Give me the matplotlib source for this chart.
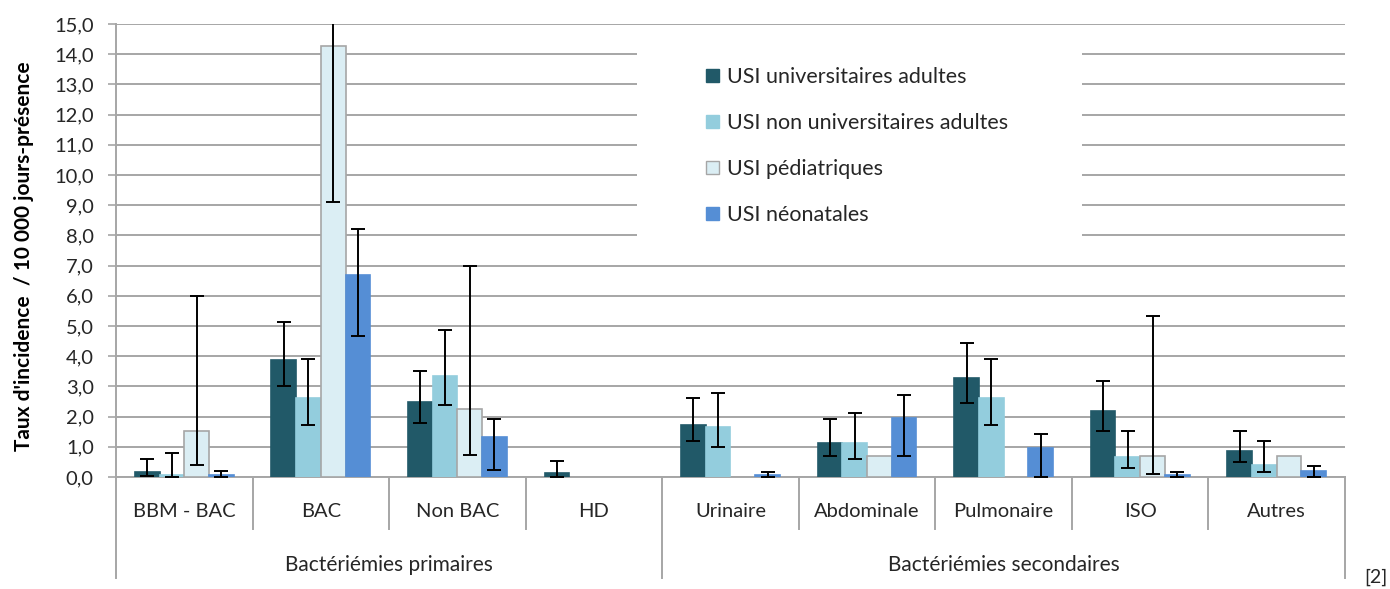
"""Taux d'incidence des bactériémies par type d'USI."""

import matplotlib
matplotlib.use("Agg")
import matplotlib.pyplot as plt
import matplotlib.transforms as mtransforms
from matplotlib.patches import Rectangle, Patch


categories = ["BBM - BAC", "BAC", "Non BAC", "HD",
              "Urinaire", "Abdominale", "Pulmonaire", "ISO", "Autres"]
groups = ["Bactériémies primaires", "Bactériémies secondaires"]
group_sizes = [4, 5]

series_names = ["USI universitaires adultes", "USI non universitaires adultes",
                "USI pédiatriques", "USI néonatales"]

univ = [0.15, 3.88, 2.48, 0.12, 1.73, 1.13, 3.27, 2.20, 0.87]
univ_lo = [0.03, 3.00, 1.79, 0.00, 1.18, 0.71, 2.44, 1.51, 0.51]
univ_hi = [0.58, 5.13, 3.52, 0.54, 2.63, 1.91, 4.44, 3.18, 1.51]

non_univ = [0.08, 2.61, 3.34, 0.0, 1.67, 1.13, 2.60, 0.67, 0.40]
non_univ_lo = [0.00, 1.72, 2.39, 0.0, 0.98, 0.58, 1.71, 0.31, 0.18]
non_univ_hi = [0.79, 3.92, 4.86, 0.0, 2.78, 2.11, 3.91, 1.51, 1.18]

pedia = [1.51, 14.28, 2.26, 0.0, 0.0, 0.71, 0.0, 0.71, 0.71]
pedia_lo = [0.39, 9.10, 0.72, 0.0, 0.0, 0.71, 0.0, 0.11, 0.71]
pedia_hi = [6.00, 19.50, 7.00, 0.0, 0.0, 0.71, 0.0, 5.32, 0.71]

neo = [0.07, 6.69, 1.34, 0.0, 0.08, 1.96, 0.97, 0.07, 0.20]
neo_lo = [0.00, 4.66, 0.24, 0.0, 0.00, 0.71, 0.00, 0.00, 0.00]
neo_hi = [0.19, 8.21, 1.92, 0.0, 0.18, 2.71, 1.44, 0.18, 0.38]

colors = ["#215968", "#93CDDD", "#DBEEF4", "#558ED5"]
edges = ["#215968", "#93CDDD", "#A6A6A6", "#558ED5"]

FONT = ["Lato", "DejaVu Sans"]
GRID = "#A6A6A6"
TEXT = "#262626"


def main():
    plt.rcParams["font.family"] = FONT
    fig = plt.figure(figsize=(13.9, 5.89), dpi=100)
    ax = fig.add_axes([116 / 1390, 1 - 477 / 589, 1229 / 1390, 453 / 589])

    series = [(univ, univ_lo, univ_hi), (non_univ, non_univ_lo, non_univ_hi),
              (pedia, pedia_lo, pedia_hi), (neo, neo_lo, neo_hi)]
    width = 0.181
    x = list(range(len(categories)))
    for i, (vals, lo, hi) in enumerate(series):
        pos = [c + (i - 1.5) * width for c in x]
        keep = [k for k, v in enumerate(vals) if v > 0]
        ax.bar([pos[k] for k in keep], [vals[k] for k in keep], width=width,
               color=colors[i], edgecolor=edges[i], linewidth=1.2, zorder=3)
        ex = [p for p, v, h in zip(pos, vals, hi) if h > v]
        ey = [v for v, h in zip(vals, hi) if h > v]
        elo = [v - l for v, l, h in zip(vals, lo, hi) if h > v]
        ehi = [h - v for v, h in zip(vals, hi) if h > v]
        ax.errorbar(ex, ey, yerr=[elo, ehi], fmt="none", ecolor="black",
                    elinewidth=1.4, capsize=4.8, capthick=1.4, zorder=4)

    ax.set_xlim(-0.5, len(categories) - 0.5)
    ax.set_ylim(0, 15)
    ax.set_yticks(range(16))
    ax.set_yticklabels([f"{v},0" for v in range(16)], fontsize=14.5, color=TEXT)
    ax.tick_params(axis="y", length=6, width=1.2, color=GRID, pad=10)
    ax.set_xticks([])
    ax.grid(axis="y", color=GRID, linewidth=1.4)
    ax.set_axisbelow(True)
    for side in ["top", "right"]:
        ax.spines[side].set_visible(False)
    for side in ["left", "bottom"]:
        ax.spines[side].set_color(GRID)
        ax.spines[side].set_linewidth(1.4)

    # multi-level category axis
    trans = mtransforms.blended_transform_factory(ax.transData, ax.transAxes)
    long_lines = [-0.5]
    start = 0
    for size in group_sizes:
        start += size
        long_lines.append(start - 0.5)
    for b in long_lines:
        ax.plot([b, b], [0, -0.223], transform=trans, color=GRID,
                linewidth=1.4, clip_on=False)
    for b in range(1, len(categories)):
        if b - 0.5 not in long_lines:
            ax.plot([b - 0.5, b - 0.5], [0, -0.115], transform=trans,
                    color=GRID, linewidth=1.4, clip_on=False)
    for c, name in zip(x, categories):
        ax.text(c, -0.077, name, transform=trans, ha="center", va="center",
                fontsize=14.5, color=TEXT)
    start = 0
    for size, name in zip(group_sizes, groups):
        ax.text(start + size / 2 - 0.5, -0.194, name, transform=trans,
                ha="center", va="center", fontsize=15, color=TEXT)
        start += size

    # legend on a white box that hides the gridlines
    ax.add_patch(Rectangle((0.424, 0.50), 0.362, 0.49, transform=ax.transAxes,
                           facecolor="white", edgecolor="none", zorder=2))
    handles = [Patch(facecolor=colors[i], edgecolor=edges[i])
               for i in range(4)]
    ax.legend(handles, series_names, loc="upper left",
              bbox_to_anchor=(0.480, 0.905), frameon=False, fontsize=15.5,
              borderpad=0, borderaxespad=0, handlelength=0.6,
              handleheight=0.6, handletextpad=0.37, labelspacing=1.21,
              labelcolor=TEXT)

    fig.text(24 / 1390, 1 - 256 / 589, "Taux d'incidence  / 10 000 jours-présence",
             rotation=90, ha="center", va="center", fontsize=15,
             fontweight="bold", color="black")
    fig.text(1376 / 1390, 1 - 577 / 589, "[2]", ha="center", va="center",
             fontsize=14, color=TEXT)

    fig.savefig("out.png", dpi=100)
    plt.close(fig)


if __name__ == "__main__":
    main()
